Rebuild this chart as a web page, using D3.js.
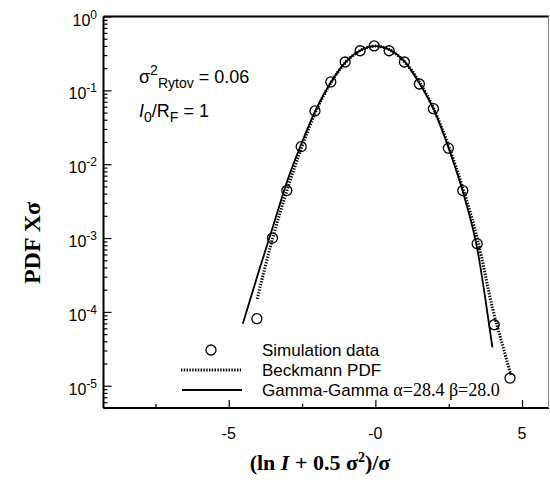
<!DOCTYPE html>
<html>
<head>
<meta charset="utf-8">
<script src="https://cdn.jsdelivr.net/npm/d3@7"></script>
<style>
  body { margin: 0; background: #fff; }
  svg text { font-family: "Liberation Sans", Arial, sans-serif; fill: #000; }
  .serif { font-family: "Liberation Serif", "Times New Roman", serif; }
</style>
</head>
<body>
<svg width="550" height="489"></svg>
<script>
// simulation data (circles)
const simX = [-4.04, -3.51, -3.02, -2.53, -2.06, -1.52, -1.03, -0.52, -0.04, 0.47, 0.99, 1.50, 1.98, 2.49, 2.98, 3.47, 4.05, 4.59];
const simY = [8.1e-5, 1.0e-3, 4.4e-3, 0.0173, 0.0526, 0.130, 0.242, 0.344, 0.399, 0.344, 0.242, 0.122, 0.0565, 0.0165, 4.4e-3, 8.4e-4, 6.7e-5, 1.27e-5];

// Beckmann PDF (dotted)
const beckX = [-4.03, -3.5, -3.0, -2.5, -2.0, -1.5, -1.0, -0.5, 0, 0.5, 1.0, 1.5, 2.0, 2.5, 3.0, 3.5, 4.0, 4.3, 4.62];
const beckY = [1.5e-4, 1.0e-3, 4.6e-3, 0.0175, 0.055, 0.13, 0.243, 0.35, 0.398, 0.352, 0.243, 0.13, 0.055, 0.0175, 4.5e-3, 9.0e-4, 1.1e-4, 4.0e-5, 1.4e-5];

// Gamma-Gamma (solid)
const ggX = [-4.52, -4.0, -3.5, -3.0, -2.5, -2.0, -1.5, -1.0, -0.5, 0, 0.5, 1.0, 1.5, 2.0, 2.5, 3.0, 3.5, 3.75, 3.99];
const ggY = [6.9e-5, 3.3e-4, 1.4e-3, 6.0e-3, 0.02, 0.058, 0.132, 0.245, 0.35, 0.398, 0.352, 0.245, 0.125, 0.054, 0.0165, 4.0e-3, 6.3e-4, 1.5e-4, 3.3e-5];

// axis ticks
const xMajor = [-5, 0, 5];
const xMajorLabels = ['-5', '-0', '5'];
const xMinor = [-7.5, -2.5, 2.5];
const yMajor = [1, 1e-1, 1e-2, 1e-3, 1e-4, 1e-5];
const yMajorExp = ['0', '-1', '-2', '-3', '-4', '-5'];

const svg = d3.select('svg');

const x = d3.scaleLinear().domain([-9.27, 5.92]).range([103.5, 549]);
const y = d3.scaleLog().domain([5e-6, 1]).range([408, 16.5]);

const [x0, x1] = x.range();
const [yb, yt] = y.range();

// ticks, inward
const yMinor = y.ticks().filter(v => !yMajor.some(m => Math.abs(Math.log10(v) - Math.log10(m)) < 1e-6));

const yAxisMinor = svg.append('g').attr('transform', `translate(${x0},0)`)
  .call(d3.axisLeft(y).tickValues(yMinor).tickSize(-4).tickFormat(''));
const yAxisMajor = svg.append('g').attr('transform', `translate(${x0},0)`)
  .call(d3.axisLeft(y).tickValues(yMajor).tickSize(-8).tickFormat(''));
const xAxisMinor = svg.append('g').attr('transform', `translate(0,${yb})`)
  .call(d3.axisBottom(x).tickValues(xMinor).tickSize(-4).tickFormat(''));
const xAxisMajor = svg.append('g').attr('transform', `translate(0,${yb})`)
  .call(d3.axisBottom(x).tickValues(xMajor).tickSize(-8).tickFormat(''));
[yAxisMinor, yAxisMajor, xAxisMinor, xAxisMajor].forEach(a => {
  a.select('.domain').remove();
  a.selectAll('line').attr('stroke', '#000').attr('stroke-width', 1.2);
});

// frame
svg.append('line').attr('x1', x0).attr('x2', x0).attr('y1', yt).attr('y2', yb).attr('stroke', '#000').attr('stroke-width', 2);
svg.append('line').attr('x1', x0).attr('x2', x1).attr('y1', yb).attr('y2', yb).attr('stroke', '#000').attr('stroke-width', 2);
svg.append('line').attr('x1', x0).attr('x2', x1).attr('y1', yt).attr('y2', yt).attr('stroke', '#000').attr('stroke-width', 2);
svg.append('line').attr('x1', x1 - 0.5).attr('x2', x1 - 0.5).attr('y1', yt).attr('y2', yb).attr('stroke', '#888').attr('stroke-width', 1);

// y tick labels
yMajor.forEach((v, i) => {
  const t = svg.append('text')
    .attr('x', 97).attr('y', y(v) + 9)
    .attr('text-anchor', 'end')
    .attr('font-size', 16);
  t.append('tspan').text('10');
  t.append('tspan').attr('dy', -7).attr('font-size', 12).text(yMajorExp[i]);
});

// x tick labels
xMajor.forEach((v, i) => {
  svg.append('text')
    .attr('x', x(v)).attr('y', 439)
    .attr('text-anchor', 'middle')
    .attr('font-size', 16)
    .text(xMajorLabels[i]);
});

// curves
const line = d3.line()
  .x(d => x(d[0]))
  .y(d => y(d[1]))
  .curve(d3.curveMonotoneX);

svg.append('path')
  .attr('d', line(d3.zip(ggX, ggY)))
  .attr('fill', 'none').attr('stroke', '#000').attr('stroke-width', 1.8);

svg.append('path')
  .attr('d', line(d3.zip(beckX, beckY)))
  .attr('fill', 'none').attr('stroke', '#000').attr('stroke-width', 3)
  .attr('stroke-dasharray', '1.4,1.4');

svg.selectAll('circle.sim')
  .data(d3.zip(simX, simY))
  .enter()
    .append('circle')
    .classed('sim', true)
    .attr('cx', d => x(d[0]))
    .attr('cy', d => y(d[1]))
    .attr('r', 5)
    .attr('fill', 'none')
    .attr('stroke', '#000')
    .attr('stroke-width', 1.3);

// annotations
const a1 = svg.append('text').attr('x', 139).attr('y', 83).attr('font-size', 18);
a1.append('tspan').text('σ');
a1.append('tspan').attr('dy', -8).attr('font-size', 14).text('2');
a1.append('tspan').attr('dy', 13).attr('font-size', 14).text('Rytov');
a1.append('tspan').attr('dy', -5).text(' = 0.06');

const a2 = svg.append('text').attr('x', 139).attr('y', 117).attr('font-size', 18);
a2.append('tspan').attr('font-style', 'italic').text('I');
a2.append('tspan').attr('dy', 5).attr('font-size', 14).text('0');
a2.append('tspan').attr('dy', -5).text('/R');
a2.append('tspan').attr('dy', 5).attr('font-size', 14).text('F');
a2.append('tspan').attr('dy', -5).text(' = 1');

// legend
svg.append('circle').attr('cx', 211).attr('cy', 350).attr('r', 5)
  .attr('fill', 'none').attr('stroke', '#000').attr('stroke-width', 1.3);
svg.append('line').attr('x1', 181).attr('x2', 241).attr('y1', 370).attr('y2', 370)
  .attr('stroke', '#000').attr('stroke-width', 3).attr('stroke-dasharray', '1.4,1.4');
svg.append('line').attr('x1', 182).attr('x2', 242).attr('y1', 390).attr('y2', 390)
  .attr('stroke', '#000').attr('stroke-width', 1.8);

svg.append('text').attr('x', 262).attr('y', 356).attr('font-size', 17).text('Simulation data');
svg.append('text').attr('x', 262).attr('y', 376).attr('font-size', 17).text('Beckmann PDF');
const lg = svg.append('text').attr('x', 262).attr('y', 396).attr('font-size', 17);
lg.append('tspan').text('Gamma-Gamma ');
lg.append('tspan').attr('class', 'serif').attr('font-size', 18).text('α=28.4 β=28.0');

// axis titles
const xt = svg.append('text').attr('class', 'serif')
  .attr('x', 320).attr('y', 470)
  .attr('text-anchor', 'middle')
  .attr('font-size', 22).attr('font-weight', 'bold');
xt.append('tspan').text('(ln ');
xt.append('tspan').attr('font-style', 'italic').text('I');
xt.append('tspan').text(' + 0.5 σ');
xt.append('tspan').attr('dy', -8).attr('font-size', 14).text('2');
xt.append('tspan').attr('dy', 8).text(')/σ');

svg.append('text').attr('class', 'serif')
  .attr('transform', 'translate(40,243) rotate(-90)')
  .attr('text-anchor', 'middle')
  .attr('font-size', 24).attr('font-weight', 'bold')
  .text('PDF Xσ');
</script>
</body>
</html>
